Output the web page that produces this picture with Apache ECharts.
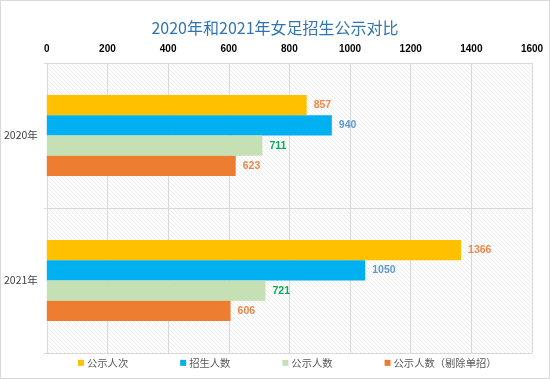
<!DOCTYPE html>
<html><head><meta charset="utf-8">
<script src="https://cdn.jsdelivr.net/npm/echarts@6/dist/echarts.min.js"></script>
<style>html,body{margin:0;padding:0;background:#fff}#c{width:550px;height:379px;box-sizing:border-box;border:1px solid #d9d9d9}</style>
</head><body><div id="c"></div>
<script>
const categories = ['2020年', '2021年'];
const seriesNames = ['公示人次', '招生人数', '公示人数', '公示人数（剔除单招）'];
const gongshiRenci = [857, 1366];
const zhaoshengRenshu = [940, 1050];
const gongshiRenshu = [711, 721];
const gongshiTichu = [623, 606];
const xTicks = [0, 200, 400, 600, 800, 1000, 1200, 1400, 1600];

const seriesData = [gongshiRenci, zhaoshengRenshu, gongshiRenshu, gongshiTichu];
const barColors = ['#FFC000', '#00B0F0', '#C5E0B4', '#ED7D31'];
const labelColors = ['#F0874A', '#5B9BD5', '#00B050', '#F0874A'];

// hatch pattern
const pc = document.createElement('canvas');
pc.width = 4; pc.height = 4;
const g = pc.getContext('2d');
g.fillStyle = '#ffffff'; g.fillRect(0, 0, 4, 4);
g.strokeStyle = '#ececec'; g.lineWidth = 1;
g.beginPath();
g.moveTo(-1, -1); g.lineTo(5, 5);
g.moveTo(-1, 3); g.lineTo(1, 5);
g.moveTo(3, -1); g.lineTo(5, 1);
g.stroke();

const chart = echarts.init(document.getElementById('c'), null, {renderer: 'canvas'});
chart.setOption({
  animation: false,
  title: {
    text: '2020年和2021年女足招生公示对比',
    left: 'center', top: 14,
    textStyle: {color: '#2F75B5', fontSize: 16, fontWeight: 'normal', fontFamily: 'Noto Sans CJK SC'}
  },
  legend: {
    data: seriesNames,
    bottom: 5, left: 72,
    itemWidth: 6, itemHeight: 6, itemGap: 52,
    icon: 'rect',
    textStyle: {color: '#595959', fontSize: 10.3, fontFamily: 'Noto Sans CJK SC', padding: [0, 0, 0, -2]}
  },
  grid: {
    left: 42, right: 17, top: 62, bottom: 25,
    show: true, borderWidth: 0,
    backgroundColor: {image: pc, repeat: 'repeat'}
  },
  xAxis: {
    type: 'value', position: 'top', min: 0, max: 1600, interval: 200,
    axisLine: {show: false}, axisTick: {show: false},
    axisLabel: {color: '#000', fontSize: 10, fontWeight: 'bold', fontFamily: 'Liberation Sans', margin: 9,
      formatter: v => xTicks.includes(v) ? String(v) : ''},
    splitLine: {show: true, lineStyle: {color: '#d9d9d9', width: 1}}
  },
  yAxis: {
    type: 'category', data: categories, inverse: true,
    axisLine: {show: true, lineStyle: {color: '#d9d9d9'}},
    axisTick: {show: true, length: 3, lineStyle: {color: '#d9d9d9'}},
    axisLabel: {color: '#404040', fontSize: 10.5, fontFamily: 'Noto Sans CJK SC', margin: 9},
    splitLine: {show: true, lineStyle: {color: '#d9d9d9', width: 1}}
  },
  series: seriesNames.map((name, i) => ({
    name, type: 'bar', data: seriesData[i],
    barGap: '0%', barCategoryGap: '44%',
    itemStyle: {color: barColors[i]},
    label: {show: true, position: 'right', distance: 7, color: labelColors[i],
      fontSize: 10.5, fontWeight: 'bold', fontFamily: 'Liberation Sans'}
  }))
});
</script></body></html>
